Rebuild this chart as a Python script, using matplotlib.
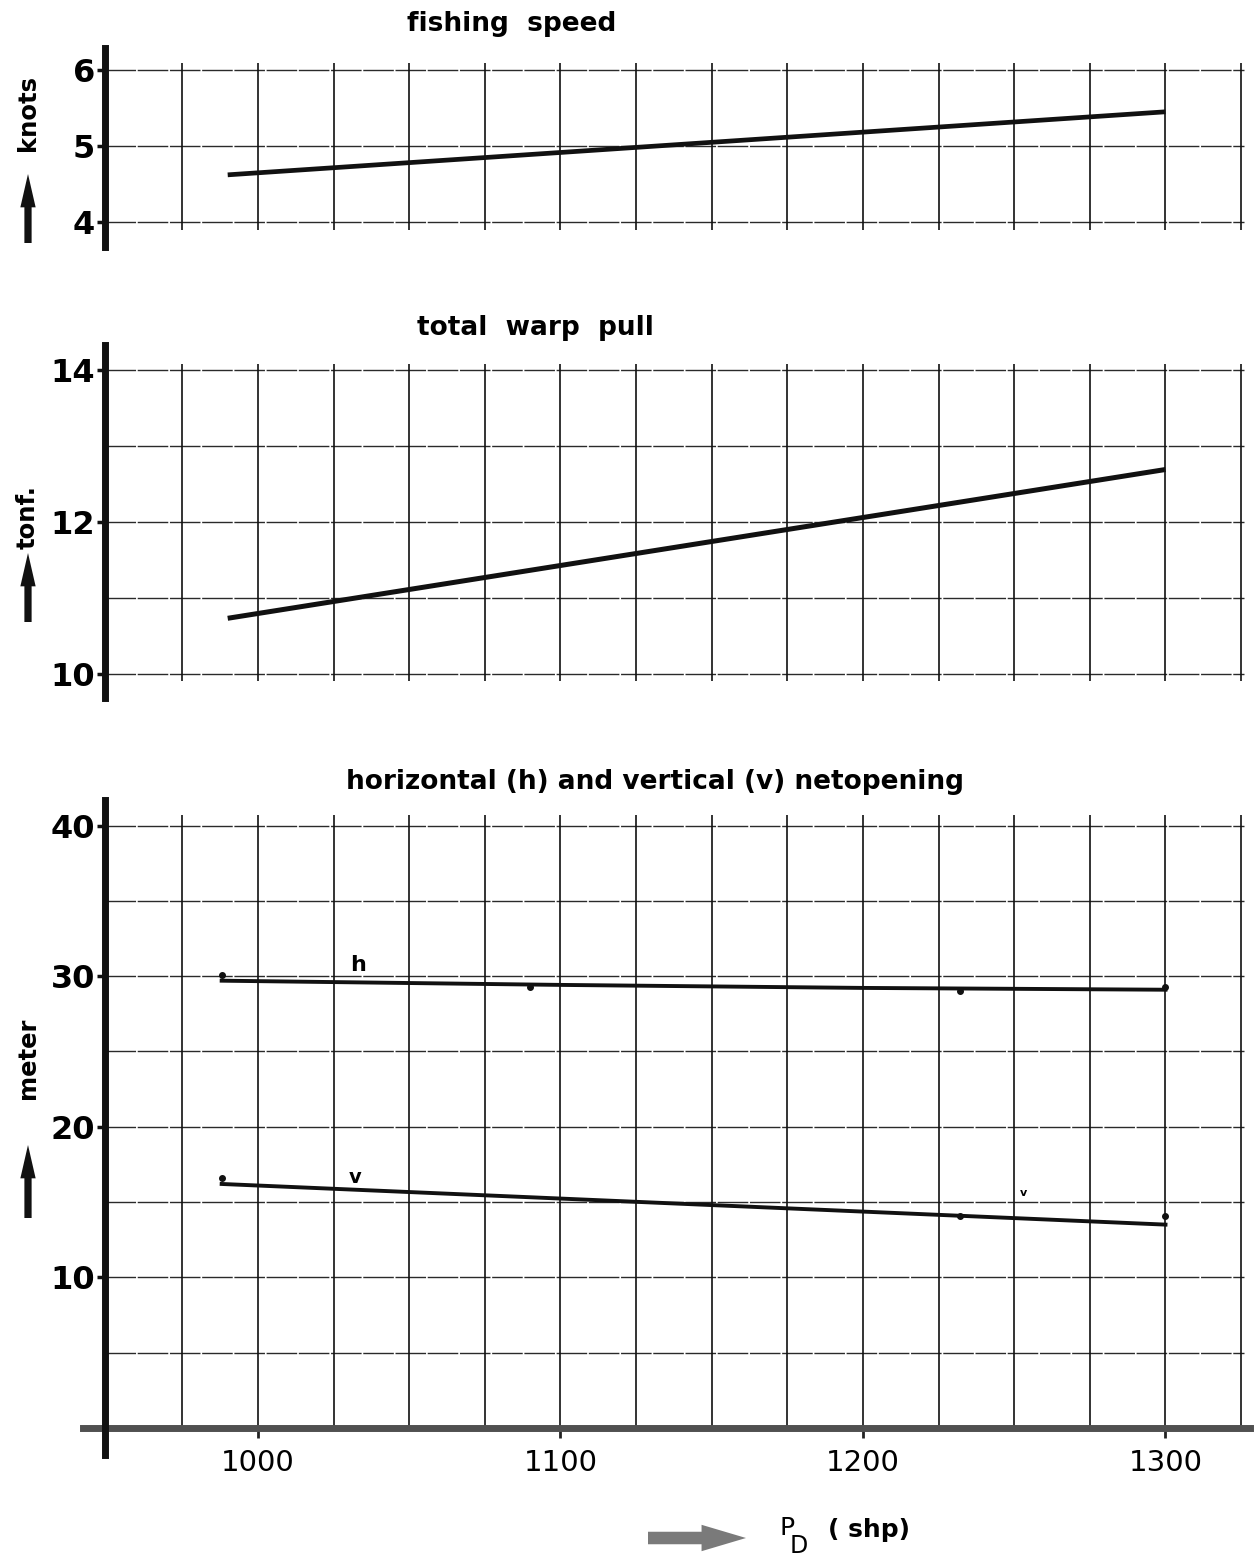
import matplotlib
matplotlib.use("Agg")
import matplotlib.pyplot as plt
from matplotlib.patches import FancyArrowPatch

# ---------------- data ----------------
grid_x = [975, 1000, 1025, 1050, 1075, 1100, 1125, 1150, 1175, 1200, 1225, 1250, 1275, 1300, 1325]
x_ticks = [1000, 1100, 1200, 1300]
x_ticklabels = ["1000", "1100", "1200", "1300"]

speed_x = [990, 1300]
speed_y = [4.62, 5.45]
speed_ticks = [4, 5, 6]
speed_grid = [4, 5, 6]

pull_x = [990, 1300]
pull_y = [10.73, 12.69]
pull_ticks = [10, 12, 14]
pull_grid = [10, 11, 12, 13, 14]

h_x = [988, 1100, 1200, 1300]
h_y = [29.7, 29.42, 29.22, 29.1]
h_pts_x = [988, 1090, 1232, 1300]
h_pts_y = [30.1, 29.3, 29.0, 29.3]

v_x = [988, 1300]
v_y = [16.2, 13.5]
v_pts_x = [988, 1232, 1300]
v_pts_y = [16.6, 14.1, 14.1]

open_ticks = [10, 20, 30, 40]
open_grid = [5, 10, 15, 20, 25, 30, 35, 40]

titles = ["fishing  speed", "total  warp  pull", "horizontal (h) and vertical (v) netopening"]
ylabels = ["knots", "tonf.", "meter"]

# ---------------- layout helpers ----------------
W, H = 1258, 1560
fig = plt.figure(figsize=(W / 100, H / 100), dpi=100)
fig.patch.set_facecolor("white")

XMIN, XMAX = 942, 1328
SPINE_X = 949.3
GRID_RIGHT = 1326

def fx(px):
    return px / W

def fy(py):
    return 1 - py / H

def make_ax(top_px, bot_px, ylim):
    ax = fig.add_axes([fx(82.5), fy(bot_px), fx(1250.2) - fx(82.5), (bot_px - top_px) / H])
    ax.set_xlim(XMIN, XMAX)
    ax.set_ylim(*ylim)
    ax.set_facecolor("none")
    for s in ["top", "right"]:
        ax.spines[s].set_visible(False)
    ax.spines["left"].set_position(("data", SPINE_X))
    ax.spines["left"].set_linewidth(5)
    ax.spines["left"].set_color("#111111")
    ax.spines["left"].set_zorder(6)
    return ax

tick_font = dict(family="DejaVu Sans", weight="bold", size=23)
title_font = dict(family="DejaVu Sans", weight="bold", size=19)
ylab_font = dict(family="DejaVu Sans", weight="bold", size=17.5)

def style_y(ax, ticks):
    ax.set_yticks(ticks)
    ax.set_yticklabels([str(t) for t in ticks], fontdict=tick_font)
    ax.tick_params(axis="y", direction="out", length=6, width=2.5, pad=1, color="#111111")

def draw_grid(ax, ys, vlo, vhi):
    ax.hlines(ys, SPINE_X, GRID_RIGHT, color="#2a2a2a", lw=1.0,
              linestyles=[(0, (22, 1.2))], zorder=1)
    ax.vlines(grid_x, vlo, vhi, color="#111111", lw=1.2, zorder=1)

# ---------------- panel 1: fishing speed ----------------
ax1 = make_ax(48, 247, (3.67, 6.29))
ax1.spines["bottom"].set_visible(False)
ax1.set_xticks([])
style_y(ax1, speed_ticks)
draw_grid(ax1, speed_grid, 3.9, 6.09)
ax1.plot(speed_x, speed_y, color="#111111", lw=3.4, solid_capstyle="butt", zorder=3)

# ---------------- panel 2: total warp pull ----------------
ax2 = make_ax(345, 698, (9.68, 14.33))
ax2.spines["bottom"].set_visible(False)
ax2.set_xticks([])
style_y(ax2, pull_ticks)
draw_grid(ax2, pull_grid, 9.9, 14.08)
ax2.plot(pull_x, pull_y, color="#111111", lw=3.6, solid_capstyle="butt", zorder=3)

# ---------------- panel 3: net opening ----------------
ax3 = make_ax(800, 1455, (-1.8, 41.7))
ax3.spines["bottom"].set_position(("data", 0))
ax3.spines["bottom"].set_linewidth(5)
ax3.spines["bottom"].set_color("#505050")
style_y(ax3, open_ticks)
draw_grid(ax3, open_grid, 0, 40.7)
ax3.set_xticks(x_ticks)
ax3.set_xticklabels(x_ticklabels, fontdict=dict(family="DejaVu Sans", weight="normal", size=21))
ax3.tick_params(axis="x", direction="out", length=7, width=2, pad=8, color="#222222")

ax3.plot(h_x, h_y, color="#111111", lw=2.8, zorder=3)
ax3.plot(v_x, v_y, color="#111111", lw=2.8, zorder=3)
ax3.plot(h_pts_x, h_pts_y, "o", color="#111111", ms=4, zorder=4)
ax3.plot(v_pts_x, v_pts_y, "o", color="#111111", ms=4, zorder=4)
ax3.text(1033, 30.05, "h", fontdict=dict(family="DejaVu Sans", weight="bold", size=16),
         ha="center", va="bottom", zorder=5)
ax3.text(1032, 16.6, "v", fontdict=dict(family="DejaVu Sans", weight="bold", size=14),
         ha="center", va="center", zorder=5)
ax3.text(1253, 15.6, "v", fontdict=dict(family="DejaVu Sans", weight="bold", size=8),
         ha="center", va="center", zorder=5)

# ---------------- titles ----------------
fig.text(fx(512), fy(24), titles[0], ha="center", va="center", **title_font)
fig.text(fx(535), fy(328), titles[1], ha="center", va="center", **title_font)
fig.text(fx(655), fy(782), titles[2], ha="center", va="center", **title_font)

# ---------------- y labels with arrows ----------------
ylab_pos = [113, 517, 1058]
arrow_pos = [(243, 174), (622, 553), (1218, 1145)]
for lab, yp, (tail, head) in zip(ylabels, ylab_pos, arrow_pos):
    fig.text(fx(28), fy(yp), lab, rotation=90, ha="center", va="center", **ylab_font)
    fig.add_artist(FancyArrowPatch(
        (fx(28), fy(tail)), (fx(28), fy(head)), transform=fig.transFigure,
        arrowstyle="simple,head_length=1.2,head_width=0.55,tail_width=0.26",
        mutation_scale=20, lw=0, color="#111111", shrinkA=0, shrinkB=0))

# ---------------- x label ----------------
fig.add_artist(FancyArrowPatch(
    (fx(648), fy(1538)), (fx(746), fy(1538)), transform=fig.transFigure,
    arrowstyle="simple,head_length=1.6,head_width=0.95,tail_width=0.45",
    mutation_scale=20, lw=0, color="#7a7a7a", shrinkA=0, shrinkB=0))
fig.text(fx(780), fy(1528), "P", ha="left", va="center",
         family="DejaVu Sans", weight="normal", size=18)
fig.text(fx(790), fy(1546), "D", ha="left", va="center",
         family="DejaVu Sans", weight="normal", size=17)
fig.text(fx(828), fy(1530), "( shp)", ha="left", va="center",
         family="DejaVu Sans", weight="bold", size=18)

fig.savefig("out.png", dpi=100, facecolor="white")
